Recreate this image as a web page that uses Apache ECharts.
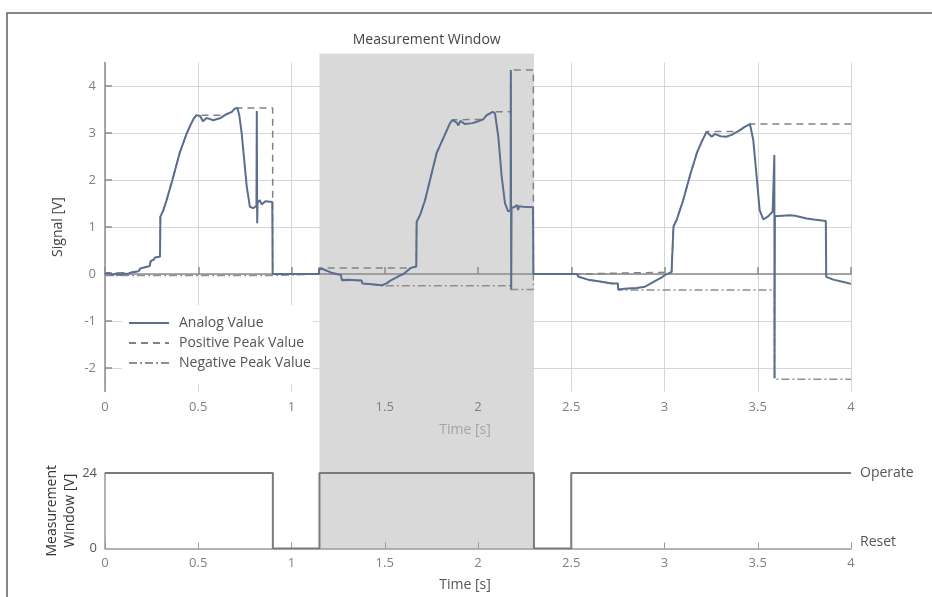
<!DOCTYPE html>
<html>
<head>
<meta charset="utf-8">
<script src="https://cdn.jsdelivr.net/npm/echarts@6/dist/echarts.min.js"></script>
<style>
  html, body { margin: 0; padding: 0; background: #fff; }
  #chart { width: 932px; height: 597px; }
</style>
</head>
<body>
<div id="chart"></div>
<script>
// time [s], signal [V]
const analogValue = [
  [0, 0], [0.02, 0.02], [0.04, -0.02], [0.06, 0.01], [0.08, -0.02], [0.1, 0.01], [0.12, 0], [0.14, 0.03],
  [0.145, 0.05], [0.18, 0.06], [0.19, 0.12], [0.22, 0.15], [0.24, 0.17], [0.245, 0.28], [0.26, 0.3],
  [0.268, 0.35], [0.295, 0.37], [0.297, 1.22], [0.313, 1.36], [0.33, 1.57], [0.36, 1.98], [0.4, 2.57],
  [0.438, 2.99], [0.46, 3.18], [0.475, 3.3], [0.49, 3.38], [0.51, 3.36], [0.525, 3.25], [0.545, 3.32],
  [0.56, 3.3], [0.58, 3.27], [0.62, 3.32], [0.652, 3.4], [0.68, 3.45], [0.697, 3.52], [0.71, 3.53],
  [0.72, 3.38], [0.733, 2.99], [0.76, 1.86], [0.777, 1.43], [0.795, 1.4], [0.812, 1.45], [0.814, 3.47],
  [0.816, 1.08], [0.818, 1.52], [0.83, 1.57], [0.84, 1.48], [0.86, 1.55], [0.897, 1.53], [0.899, 0],
  [1.147, 0], [1.149, 0.12], [1.17, 0.1], [1.22, 0.02], [1.265, -0.02], [1.27, -0.13], [1.3, -0.12],
  [1.376, -0.14], [1.38, -0.2], [1.43, -0.22], [1.484, -0.24], [1.51, -0.2], [1.53, -0.14], [1.573, -0.05],
  [1.6, 0], [1.64, 0.13], [1.669, 0.16], [1.671, 1.11], [1.69, 1.26], [1.716, 1.57], [1.778, 2.57],
  [1.814, 2.89], [1.85, 3.21], [1.864, 3.28], [1.886, 3.22], [1.895, 3.16], [1.905, 3.26], [1.93, 3.19],
  [1.97, 3.21], [1.993, 3.24], [2.028, 3.29], [2.047, 3.38], [2.079, 3.45], [2.091, 3.42], [2.109, 2.92],
  [2.127, 2.07], [2.145, 1.5], [2.162, 1.33], [2.175, 1.36], [2.176, 4.34], [2.178, -0.33], [2.18, 1.4],
  [2.198, 1.43], [2.21, 1.47], [2.215, 1.36], [2.22, 1.44], [2.243, 1.43], [2.295, 1.42], [2.297, 0],
  [2.529, 0], [2.54, -0.06], [2.59, -0.12], [2.654, -0.16], [2.717, -0.2], [2.75, -0.2], [2.752, -0.33],
  [2.8, -0.31], [2.85, -0.3], [2.895, -0.27], [2.913, -0.23], [2.958, -0.13], [2.99, -0.06], [3.003, -0.02],
  [3.038, 0.04], [3.046, 0.05], [3.048, 1.01], [3.065, 1.15], [3.1, 1.57], [3.137, 2.1], [3.173, 2.57],
  [3.2, 2.82], [3.226, 3.03], [3.253, 2.92], [3.27, 2.98], [3.3, 2.93], [3.33, 2.92], [3.36, 2.96],
  [3.405, 3.06], [3.43, 3.13], [3.458, 3.19], [3.476, 2.85], [3.494, 2.07], [3.51, 1.36], [3.53, 1.16],
  [3.557, 1.23], [3.58, 1.33], [3.588, 1.3], [3.589, 2.53], [3.59, -2.22], [3.592, 1.23], [3.673, 1.25],
  [3.7, 1.24], [3.762, 1.18], [3.8, 1.16], [3.865, 1.13], [3.867, -0.06], [3.905, -0.12], [3.96, -0.17],
  [4, -0.21]
];

const positivePeak = [
  [0, 0.02], [0.14, 0.03], [0.145, 0.05], [0.18, 0.06], [0.19, 0.12], [0.22, 0.15], [0.24, 0.17],
  [0.245, 0.28], [0.26, 0.3], [0.268, 0.35], [0.295, 0.37], [0.297, 1.22], [0.313, 1.36], [0.33, 1.57],
  [0.36, 1.98], [0.4, 2.57], [0.438, 2.99], [0.46, 3.18], [0.475, 3.3], [0.49, 3.38], [0.62, 3.38],
  [0.652, 3.4], [0.68, 3.45], [0.697, 3.52], [0.71, 3.53], [0.899, 3.53], [0.899, 0],
  [1.147, 0], [1.149, 0.13], [1.64, 0.13], [1.669, 0.16], [1.671, 1.11], [1.69, 1.26], [1.716, 1.57],
  [1.778, 2.57], [1.814, 2.89], [1.85, 3.21], [1.864, 3.28], [2.028, 3.29], [2.047, 3.38], [2.079, 3.45],
  [2.176, 3.45], [2.176, 4.34], [2.297, 4.34], [2.297, 0],
  [2.529, 0], [2.53, 0.04], [3.038, 0.04], [3.046, 0.05], [3.048, 1.01], [3.065, 1.15], [3.1, 1.57],
  [3.137, 2.1], [3.173, 2.57], [3.2, 2.82], [3.226, 3.03], [3.39, 3.03], [3.405, 3.06], [3.43, 3.13],
  [3.458, 3.19], [4, 3.19]
];

const negativePeak = [
  [0, -0.03], [0.899, -0.03], [0.899, 0], [1.147, 0], [1.22, 0], [1.265, -0.02], [1.27, -0.14],
  [1.376, -0.14], [1.38, -0.2], [1.43, -0.22], [1.484, -0.25], [2.176, -0.25], [2.178, -0.33],
  [2.297, -0.33], [2.297, 0], [2.529, 0], [2.54, -0.06], [2.59, -0.12], [2.654, -0.16], [2.717, -0.2],
  [2.75, -0.2], [2.752, -0.34], [3.589, -0.34], [3.59, -2.24], [4, -2.24]
];

// measurement window input [V]
const windowSignal = [
  [0, 24], [0.9, 24], [0.9, 0], [1.15, 0], [1.15, 24], [2.3, 24], [2.3, 0], [2.5, 0], [2.5, 24], [4, 24]
];
const windowStart = 1.15;
const windowEnd = 2.3;

const signalTicks = [-2, -1, 0, 1, 2, 3, 4];
const windowStates = { 0: "{low|Reset}", 24: "Operate" };

const font = "'Open Sans', sans-serif";
const axisGray = "#8c8c8c";
const gridGray = "#d6d6d6";

const chart = echarts.init(document.getElementById("chart"), null, { renderer: "canvas" });

chart.setOption({
  animation: false,
  textStyle: { fontFamily: font },
  grid: [
    { left: 105, right: 81, top: 62.5, height: 329 },
    { left: 105, right: 81, top: 473, height: 75.5 }
  ],
  legend: {
    data: ["Analog Value", "Positive Peak Value", "Negative Peak Value"],
    orient: "vertical",
    left: 122,
    top: 305,
    padding: [11, 2, 14, 6],
    itemWidth: 40,
    itemHeight: 14,
    itemGap: 6,
    backgroundColor: "#fff",
    itemStyle: { opacity: 0 },
    textStyle: { color: "#555", fontSize: 14, fontFamily: font, padding: [0, 0, 0, 5] }
  },
  xAxis: [
    {
      type: "value", gridIndex: 0, min: 0, max: 4, interval: 0.5,
      axisLine: { lineStyle: { color: axisGray, width: 1.5 } },
      axisTick: { inside: true, length: 7, lineStyle: { color: axisGray, width: 1.5 } },
      axisLabel: { color: "#808080", fontSize: 13, margin: 9 },
      splitLine: { show: true, lineStyle: { color: gridGray, width: 1 } },
      name: "Time [s]", nameLocation: "middle", nameGap: 32,
      nameTextStyle: { color: "#a3a3a3", fontSize: 14, padding: [0, 26, 0, 0] }
    },
    {
      type: "value", gridIndex: 1, min: 0, max: 4, interval: 0.5,
      axisLine: { lineStyle: { color: "#999", width: 1.5 } },
      axisTick: { inside: true, length: 6, lineStyle: { color: "#999" } },
      axisLabel: { color: "#808080", fontSize: 13, margin: 8 },
      splitLine: { show: false },
      name: "Time [s]", nameLocation: "middle", nameGap: 30,
      nameTextStyle: { color: "#555", fontSize: 14, padding: [0, 26, 0, 0] }
    }
  ],
  yAxis: [
    {
      type: "value", gridIndex: 0, min: -2.5, max: 4.5,
      axisLine: { show: true, lineStyle: { color: axisGray, width: 1.5 } },
      axisTick: { show: true, inside: true, length: 7, customValues: signalTicks, lineStyle: { color: axisGray, width: 1.5 } },
      axisLabel: { customValues: signalTicks, color: "#808080", fontSize: 13, margin: 9 },
      splitLine: { show: true, lineStyle: { color: gridGray, width: 1 } },
      name: "Signal [V]", nameLocation: "middle", nameGap: 40, nameRotate: 90,
      nameTextStyle: { color: "#444", fontSize: 14 }
    },
    {
      type: "value", gridIndex: 1, min: 0, max: 24, interval: 24,
      axisLine: { show: true, lineStyle: { color: "#999", width: 1.5 } },
      axisTick: { show: false },
      axisLabel: { color: "#555", fontSize: 13, margin: 8 },
      splitLine: { show: false },
      name: "Measurement\nWindow [V]", nameLocation: "middle", nameGap: 26, nameRotate: 90,
      nameMoveOverlap: false,
      nameTextStyle: { color: "#333", fontSize: 14, lineHeight: 18 }
    },
    {
      type: "value", gridIndex: 1, position: "right", min: 0, max: 24, interval: 24,
      axisLine: { show: false },
      axisTick: { show: false },
      axisLabel: {
        color: "#555", fontSize: 14, margin: 9,
        formatter: (v) => windowStates[v] || "",
        rich: { low: { color: "#555", fontSize: 14, padding: [0, 0, 12, 0] } }
      },
      splitLine: { show: false }
    }
  ],
  series: [
    {
      name: "Negative Peak Value", type: "line", xAxisIndex: 0, yAxisIndex: 0,
      data: negativePeak, symbol: "none", z: 3,
      lineStyle: { color: "#8f8f8f", width: 1.5, type: [8, 3, 2, 3] },
      itemStyle: { color: "#8f8f8f" }
    },
    {
      name: "Positive Peak Value", type: "line", xAxisIndex: 0, yAxisIndex: 0,
      data: positivePeak, symbol: "none", z: 3,
      lineStyle: { color: "#828282", width: 1.5, type: [7, 5] },
      itemStyle: { color: "#828282" }
    },
    {
      name: "Analog Value", type: "line", xAxisIndex: 0, yAxisIndex: 0,
      data: analogValue, symbol: "none", z: 4,
      lineStyle: { color: "#5a6e8e", width: 2 },
      itemStyle: { color: "#5a6e8e" }
    },
    {
      name: "Measurement Window", type: "line", xAxisIndex: 1, yAxisIndex: 1,
      data: windowSignal, symbol: "none", z: 4,
      lineStyle: { color: "#7a7a7a", width: 2 },
      itemStyle: { color: "#7a7a7a" }
    }
  ]
});

// shaded measurement window spanning both plots
const topLeft = chart.convertToPixel({ gridIndex: 0 }, [windowStart, 4.5]);
const bottomRight = chart.convertToPixel({ gridIndex: 1 }, [windowEnd, 0]);
const shadeTop = topLeft[1] - 9;

chart.setOption({
  graphic: [
    {
      type: "rect", z: -1, silent: true,
      shape: { x: topLeft[0], y: shadeTop, width: bottomRight[0] - topLeft[0], height: bottomRight[1] - shadeTop },
      style: { fill: "#d9d9d9" }
    },
    {
      type: "text", z: 5, silent: true,
      x: (topLeft[0] + bottomRight[0]) / 2, y: shadeTop - 13,
      style: { text: "Measurement Window", fill: "#444", font: "14px " + font, align: "center", verticalAlign: "middle" }
    },
    {
      type: "polyline", z: 10, silent: true,
      shape: { points: [[932, 13], [7, 13], [7, 597]] },
      style: { stroke: "#5f5f5f", lineWidth: 1.5, fill: null }
    }
  ]
});
</script>
</body>
</html>
